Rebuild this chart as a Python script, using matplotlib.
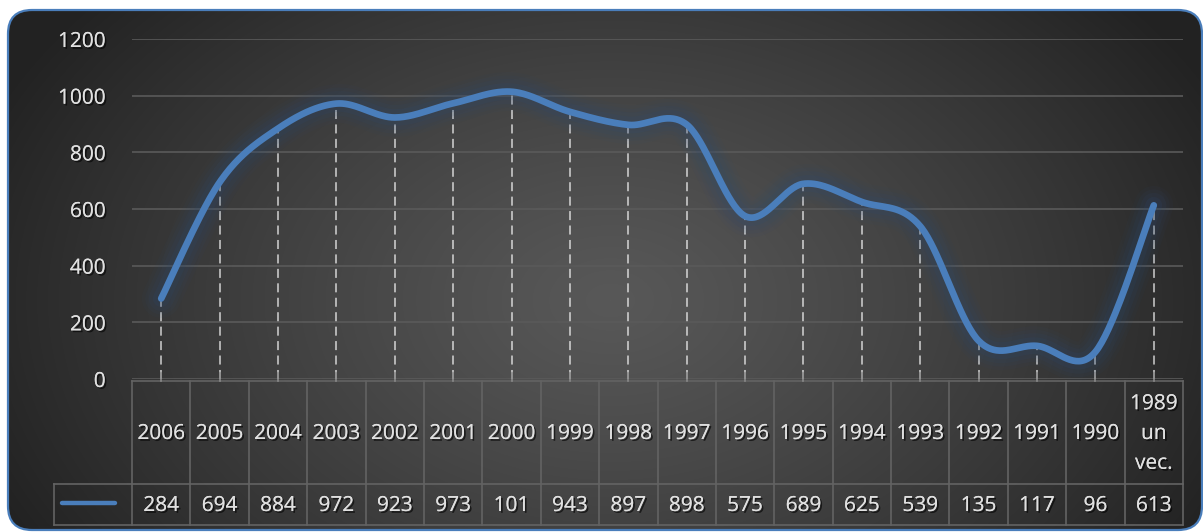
import numpy as np
import matplotlib
matplotlib.use("Agg")
import matplotlib.pyplot as plt
from matplotlib.patches import FancyBboxPatch
from matplotlib.transforms import blended_transform_factory
import matplotlib.patheffects as pe

# ---------------- data ----------------
categories = ["2006", "2005", "2004", "2003", "2002", "2001", "2000", "1999", "1998",
              "1997", "1996", "1995", "1994", "1993", "1992", "1991", "1990", "1989\nun\nvec."]
values = [284, 694, 884, 972, 923, 973, 1014, 943, 897, 898, 575, 689, 625, 539, 135, 117, 96, 613]
# Excel clips 4-digit numbers in the narrow table cells (1014 -> "101")
value_labels = [str(v)[:3] for v in values]
yticks = [0, 200, 400, 600, 800, 1000, 1200]

W, H = 1203, 532
plt.rcParams['font.family'] = ['Open Sans', 'DejaVu Sans']
TXT = '#e0e0e0'
LINE = '#4a7ebb'
GRID = '#5a5a5a'
FS = 15
shadow = [pe.withSimplePatchShadow(offset=(1.3, -1.3), shadow_rgbFace='black', alpha=0.6), pe.Normal()]

fig = plt.figure(figsize=(W / 100, H / 100), dpi=100, facecolor='white')

# background layer in pixel coordinates
bg = fig.add_axes([0, 0, 1, 1])
bg.set_xlim(0, W)
bg.set_ylim(H, 0)
bg.axis('off')

frame = FancyBboxPatch((8, 10), 1194, 520, boxstyle="round,pad=0,rounding_size=24",
                       facecolor='none', edgecolor='none', transform=bg.transData)
bg.add_patch(frame)
xx, yy = np.meshgrid(np.arange(W), np.arange(H))
r = np.sqrt(((xx - 610) / 680.0) ** 2 + ((yy - 300) / 470.0) ** 2)
r = np.clip(r, 0, 1)
c_in = np.array([0x58, 0x58, 0x58]) / 255
c_out = np.array([0x22, 0x22, 0x22]) / 255
img = c_in[None, None, :] * (1 - r[..., None] ** 1.2) + c_out[None, None, :] * (r[..., None] ** 1.2)
im = bg.imshow(img, extent=(0, W, H, 0), aspect='auto', interpolation='bilinear', zorder=0)
im.set_clip_path(frame)
border = FancyBboxPatch((8, 10), 1194, 520, boxstyle="round,pad=0,rounding_size=24",
                        facecolor='none', edgecolor='#4a7ebb', linewidth=1.6, zorder=1)
bg.add_patch(border)

# main plot axes
left_px, right_px, top_px, zero_px = 132, 1183, 39, 379
ax = fig.add_axes([left_px / W, (H - zero_px) / H, (right_px - left_px) / W, (zero_px - top_px) / H])
ax.set_facecolor('none')
n = len(values)
ax.set_xlim(-0.5, n - 0.5)
ax.set_ylim(0, 1200)
for s in ax.spines.values():
    s.set_visible(False)
ax.set_yticks(yticks)
ax.set_yticklabels([str(t) for t in yticks], color=TXT, fontsize=FS)
for lbl in ax.get_yticklabels():
    lbl.set_path_effects(shadow)
ax.tick_params(axis='y', length=0, pad=19)
ax.set_xticks([])
ax.yaxis.grid(True, color=GRID, linewidth=1.2)
ax.set_axisbelow(True)

x = np.arange(n)
y = np.array(values, dtype=float)

# drop lines
ax.vlines(x, 0, y, colors='white', alpha=0.65, linewidth=1.3, linestyles=(0, (5, 3)), zorder=2)

# Excel-like smoothed line (Catmull-Rom Bezier)
P = np.column_stack([x, y])
pts = []
t = np.linspace(0, 1, 40)
for i in range(n - 1):
    p0 = P[max(i - 1, 0)]
    p1 = P[i]
    p2 = P[i + 1]
    p3 = P[min(i + 2, n - 1)]
    c1 = p1 + (p2 - p0) / 6.0
    c2 = p2 - (p3 - p1) / 6.0
    seg = ((1 - t) ** 3)[:, None] * p1 + (3 * (1 - t) ** 2 * t)[:, None] * c1 + \
          (3 * (1 - t) * t ** 2)[:, None] * c2 + (t ** 3)[:, None] * p2
    pts.append(seg if i == 0 else seg[1:])
curve = np.vstack(pts)
for lw, a in [(28, 0.06), (23, 0.08), (18, 0.10), (12, 0.15)]:
    ax.plot(curve[:, 0], curve[:, 1], color='#2c4a72', linewidth=lw, alpha=a,
            solid_capstyle='round', solid_joinstyle='round', zorder=3, clip_on=False)
ax.plot(curve[:, 0], curve[:, 1], color=LINE, linewidth=4.8, solid_capstyle='round',
        solid_joinstyle='round', zorder=4, clip_on=False)

# data table below the plot
tr = blended_transform_factory(ax.transData, bg.transData)
TB = '#636363'
t_top, t_mid, t_bot = 381, 484, 525
legend_left = 54
bg.plot([legend_left, right_px], [t_mid, t_mid], color=TB, lw=1.2, zorder=2)
bg.plot([legend_left, right_px], [t_bot, t_bot], color=TB, lw=1.2, zorder=2)
bg.plot([legend_left, legend_left], [t_mid, t_bot], color=TB, lw=1.2, zorder=2)
ax.plot([-0.5, n - 0.5], [t_top, t_top], color=TB, lw=1.2, transform=tr, clip_on=False, zorder=2)
for k in range(n + 1):
    ax.plot([k - 0.5, k - 0.5], [t_top, t_bot], color=TB, lw=1.2, transform=tr, clip_on=False, zorder=2)
# small category ticks at the axis
for k in range(n):
    ax.plot([k, k], [373, t_top], color='#8a8a8a', lw=1.2, transform=tr, clip_on=False, zorder=2)

for k, (cat, lab) in enumerate(zip(categories, value_labels)):
    ax.text(k, (t_top + t_mid) / 2 + 1, cat, transform=tr, ha='center', va='center', color=TXT,
            fontsize=FS, linespacing=1.55, path_effects=shadow, clip_on=False)
    ax.text(k, (t_mid + t_bot) / 2 + 1, lab, transform=tr, ha='center', va='center', color=TXT,
            fontsize=FS, path_effects=shadow, clip_on=False)

# legend key in the table
bg.plot([62, 115], [503, 503], color=LINE, lw=3.2, solid_capstyle='round', zorder=3)

fig.savefig('out.png', dpi=100, facecolor='white')
